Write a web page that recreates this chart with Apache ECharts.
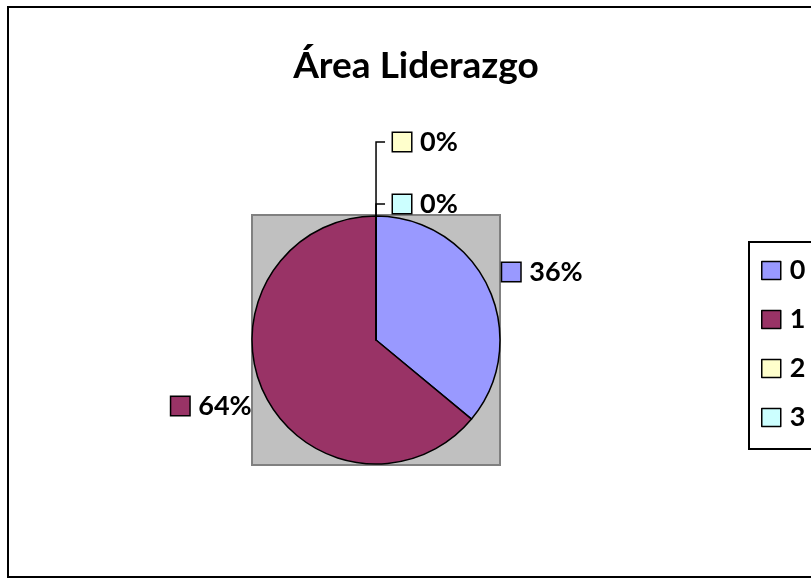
<!DOCTYPE html>
<html>
<head>
<meta charset="utf-8">
<script src="https://cdn.jsdelivr.net/npm/echarts@6/dist/echarts.min.js"></script>
<style>
  html, body { margin: 0; padding: 0; background: #fff; }
  #chart { width: 811px; height: 578px; }
</style>
</head>
<body>
<div id="chart"></div>
<script>
// 数据
const categories = ['0', '1', '2', '3'];
const values = [9, 16, 0, 0];
const colors = ['#9999FF', '#993366', '#FFFFCC', '#CCFFFF'];
// 引导线长度（0% 的标签往上排）
const lineLength = [10, 10, 74, 12];
// 标签偏移（相对默认位置）
const labelShift = [[-9, -11], [11, 9], [3, 0], [3, 0]];

(function () {
  let myChart = echarts.init(document.getElementById('chart'))
  const font = 'Lato, "Liberation Sans", sans-serif'
  const cx = 376, cy = 340, r = 124

  // 每个扇区的小方块样式
  let rich = { t: { fontSize: 27, fontWeight: 'bold', color: '#000', fontFamily: font, padding: [0, 0, 0, 9] } }
  colors.forEach(function (c, i) {
    rich['k' + i] = { width: 18, height: 18, backgroundColor: c, borderColor: '#000', borderWidth: 1.5 }
  })

  let option = {
    animation: false,
    title: {
      text: 'Área Liderazgo',
      left: 411,
      top: 43,
      textAlign: 'center',
      textStyle: { fontSize: 37, fontWeight: 'bold', color: '#000', fontFamily: font }
    },
    legend: {
      orient: 'vertical',
      left: 749,
      top: 242,
      padding: [15, 12, 18, 12],
      borderColor: '#000',
      borderWidth: 2,
      itemWidth: 19,
      itemHeight: 18,
      itemGap: 22,
      icon: 'rect',
      itemStyle: { borderColor: '#000', borderWidth: 1.5 },
      textStyle: { fontSize: 27, fontWeight: 'bold', color: '#000', fontFamily: font, padding: [0, 0, 0, 4] },
      data: categories
    },
    graphic: [
      {
        type: 'rect',
        shape: { x: 8, y: 7, width: 820, height: 570 },
        style: { fill: 'none', stroke: '#000', lineWidth: 2 },
        silent: true
      },
      {
        type: 'rect',
        shape: { x: cx - r, y: cy - r - 1, width: 2 * r, height: 2 * r + 2 },
        style: { fill: '#C0C0C0', stroke: '#808080', lineWidth: 2 },
        z: -1,
        silent: true
      }
    ],
    series: [
      {
        type: 'pie',
        center: [cx, cy],
        radius: r,
        // 稍微偏一点，让 0 值扇区的引导线朝右
        startAngle: 89.99,
        clockwise: true,
        avoidLabelOverlap: false,
        itemStyle: { borderColor: '#000', borderWidth: 1.5 },
        label: {
          show: true,
          position: 'outside',
          formatter: function (p) {
            return '{k' + p.dataIndex + '|}{t|' + Math.round(p.percent) + '%}'
          },
          rich: rich
        },
        labelLine: { show: true, length: 10, length2: 9, lineStyle: { color: '#000', width: 1.5 } },
        labelLayout: function (params) {
          let s = labelShift[params.dataIndex]
          return { dx: s[0], dy: s[1] }
        },
        data: categories.map(function (name, i) {
          return {
            name: name,
            value: values[i],
            itemStyle: { color: colors[i] },
            labelLine: { show: values[i] === 0, length: lineLength[i] }
          }
        })
      }
    ]
  }

  myChart.setOption(option)
  window.addEventListener('resize', function () {
    myChart.resize()
  })
})();
</script>
</body>
</html>
